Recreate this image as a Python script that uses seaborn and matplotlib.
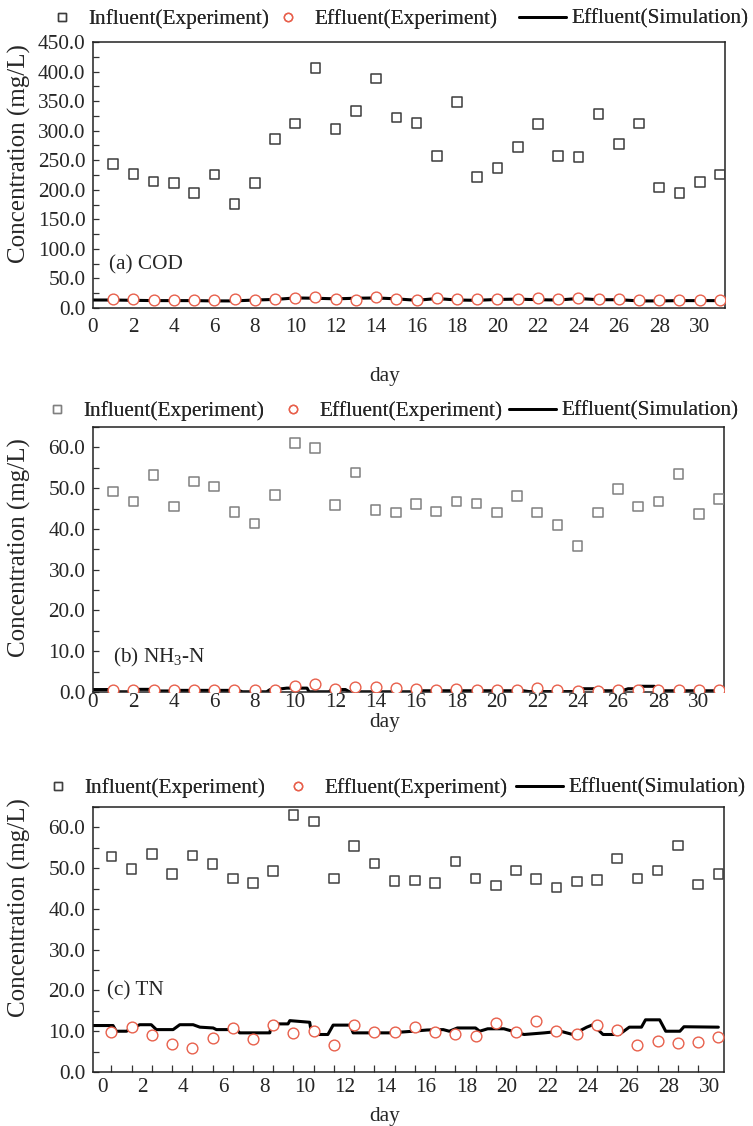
import matplotlib
matplotlib.use("Agg")
import matplotlib.pyplot as plt
import seaborn as sns
import pandas as pd
from matplotlib.lines import Line2D
from matplotlib.ticker import FormatStrFormatter, FixedLocator

# ---------------- data ----------------
days = list(range(1, 32))

cod_in = [244, 227, 214, 211, 195, 226, 176, 211, 286, 312, 406, 303, 333, 388, 322,
          313, 257, 349, 222, 237, 272, 311, 257, 255, 328, 277, 312, 204, 195, 213, 226]
cod_out = [16, 15, 13, 14, 14, 13, 15, 14, 15, 17, 18, 16, 14, 19, 16,
           14, 17, 16, 15, 16, 16, 17, 15, 17, 15, 15, 13, 14, 14, 14, 14]
cod_sim_t = list(range(0, 32))
cod_sim = [13.5, 13.5, 13, 12.5, 12.5, 12.5, 12, 12, 13.5, 14.5, 17, 16.5, 15.5, 16.5, 17, 15.5,
           13, 16, 13.5, 13, 14.5, 15, 14, 13.5, 16, 14, 14, 12, 12, 12.5, 12.5, 12.5]

nh_in = [49.2, 46.7, 53.3, 45.5, 51.6, 50.4, 44.2, 41.3, 48.3, 61.0, 59.9, 45.8, 53.8, 44.6, 44.0,
         46.1, 44.3, 46.7, 46.2, 44.0, 48.0, 44.0, 41.0, 35.8, 44.0, 49.8, 45.5, 46.7, 53.4, 43.6, 47.4]
nh_out = [0.5, 0.6, 0.6, 0.5, 0.6, 0.5, 0.4, 0.5, 0.5, 1.4, 1.9, 0.8, 1.2, 1.2, 1.1,
          0.8, 0.6, 0.7, 0.5, 0.5, 0.5, 1.1, 0.5, 0.3, 0.3, 0.4, 0.4, 0.4, 0.5, 0.5, 0.5]
nh_sim_t = [0, 1.0, 1.17, 1.8, 2.05, 2.94, 3.1, 3.77, 4.0, 7.2, 7.4, 8.6, 8.77, 9.0, 9.6, 10.6,
            10.7, 11.7, 11.8, 12.5, 12.7, 16.07, 16.3, 21.3, 21.6, 24.0, 24.1, 25.0, 25.2, 26.2,
            26.5, 27.0, 27.1, 27.8, 27.9, 31.0]
nh_sim = [0.6, 0.6, 0.05, 0.05, 0.65, 0.65, 0.25, 0.25, 0.4, 0.4, 0.05, 0.05, 0.6, 0.6, 0.95, 0.95,
          0.05, 0.05, 0.6, 0.6, 0.05, 0.05, 0.3, 0.3, 0.1, 0.1, 0.8, 0.8, 0.3, 0.3,
          0.8, 0.8, 1.4, 1.4, 0.3, 0.3]

tn_in = [52.9, 49.8, 53.5, 48.5, 53.1, 51.0, 47.5, 46.3, 49.3, 63.1, 61.4, 47.5, 55.5, 51.1, 46.8,
         47.0, 46.3, 51.6, 47.5, 45.7, 49.4, 47.3, 45.3, 46.7, 47.1, 52.4, 47.5, 49.4, 55.6, 46.0, 48.5]
tn_out = [9.8, 11.1, 9.1, 6.9, 6.0, 8.3, 10.7, 8.0, 11.5, 9.6, 10.1, 6.6, 11.5, 9.7, 9.9,
          11.1, 9.8, 9.4, 8.9, 12.0, 9.7, 12.4, 10.0, 9.4, 11.5, 10.3, 6.7, 7.7, 7.2, 7.4, 8.7]
tn_sim_t = [0, 1.08, 1.24, 1.74, 2.4, 2.97, 3.22, 4.05, 4.38, 5.04, 5.37, 6.03, 6.19, 7.18, 7.34,
            8.83, 8.91, 9.73, 9.82, 10.8, 10.9, 11.7, 11.96, 12.8, 12.95, 14.8, 15.9, 16.6, 17.4,
            17.7, 18.1, 19.0, 19.2, 19.6, 20.4, 21.4, 22.4, 23.2, 23.8, 24.5, 24.8, 25.3, 26.1,
            26.6, 27.2, 27.4, 28.1, 28.4, 29.1, 29.3, 31.0]
tn_sim = [11.4, 11.4, 10.0, 10.0, 11.6, 11.6, 10.4, 10.4, 11.6, 11.6, 11.0, 10.8, 10.4, 10.4, 9.6,
          9.6, 11.8, 11.8, 12.6, 12.2, 9.2, 9.2, 11.5, 11.5, 9.6, 9.6, 10.0, 10.3, 10.4,
          10.0, 10.8, 10.8, 10.0, 10.6, 10.6, 9.2, 9.6, 10.0, 9.2, 11.0, 11.6, 9.2, 9.2,
          11.0, 11.0, 12.8, 12.8, 10.0, 10.0, 11.1, 11.0]

# ---------------- style ----------------
sns.set_theme(style="ticks")
plt.rcParams["font.family"] = ["Liberation Serif", "DejaVu Serif"]
plt.rcParams["mathtext.default"] = "regular"
FS = 15.3
W, H = 753, 1126
RED = "#e8604c"

fig = plt.figure(figsize=(W / 100, H / 100), dpi=100)


def add_ax(l, t, r, b):
    return fig.add_axes([l / W, 1 - b / H, (r - l) / W, (b - t) / H])


def panel(box, x_in, y_in, y_out, t_sim, y_sim, sq_color, ylim, ymajor, yminor,
          xlim, xlabel_pos, xmarks, tag, tag_xy, ylab_y, day_y, legend_y,
          leg_x, xlabpad):
    ax = add_ax(*box)
    df_in = pd.DataFrame({"day": x_in, "v": y_in})
    df_out = pd.DataFrame({"day": x_in, "v": y_out})
    df_sim = pd.DataFrame({"t": t_sim, "v": y_sim})
    sns.lineplot(data=df_sim, x="t", y="v", ax=ax, color="black", lw=2.2, zorder=2,
                 estimator=None, sort=False)
    sns.scatterplot(data=df_in, x="day", y="v", ax=ax, marker="s", s=48,
                    facecolor="none", edgecolor=sq_color, linewidth=1.1, zorder=3)
    sns.scatterplot(data=df_out, x="day", y="v", ax=ax, marker="o", s=60,
                    facecolor="white", edgecolor=RED, linewidth=1.0, zorder=4)
    ax.set_xlim(*xlim)
    ax.set_ylim(*ylim)
    ax.yaxis.set_major_locator(FixedLocator(ymajor))
    ax.yaxis.set_minor_locator(FixedLocator(yminor))
    ax.yaxis.set_major_formatter(FormatStrFormatter("%.1f"))
    ax.set_xticks([p for p, _ in xlabel_pos])
    ax.set_xticklabels([lab for _, lab in xlabel_pos])
    ax.xaxis.set_minor_locator(FixedLocator(xmarks))
    ax.tick_params(axis="x", which="major", length=0, pad=xlabpad, labelsize=FS)
    ax.tick_params(axis="x", which="minor", direction="in", length=5, width=0.9,
                   color="#333333")
    ax.tick_params(axis="y", which="both", direction="in", length=4, width=0.9,
                   pad=5.5, labelsize=FS, color="#333333")
    for sp in ax.spines.values():
        sp.set_linewidth(1.1)
        sp.set_color("#222222")
    bl, bt, br, bb = box
    ax.set_xlabel("day", fontsize=FS)
    ax.xaxis.label.set_va("center")
    ax.xaxis.set_label_coords(((W / 2) - bl + 8) / (br - bl), (bb - day_y) / (bb - bt))
    ax.set_ylabel("Concentration (mg/L)", fontsize=18)
    ax.yaxis.label.set_va("center")
    ax.yaxis.set_label_coords((19 - bl) / (br - bl), (bb - ylab_y) / (bb - bt))
    ax.text((tag_xy[0] - bl) / (br - bl), (bb - tag_xy[1]) / (bb - bt), tag,
            transform=ax.transAxes, fontsize=FS, va="center", ha="left")
    # legend: three entries placed in figure coordinates
    sq = Line2D([], [], ls="none", marker="s", ms=6, mfc="none", mec=sq_color, mew=1.0)
    ci = Line2D([], [], ls="none", marker="o", ms=6, mfc="none", mec=RED, mew=1.0)
    ln = Line2D([], [], color="black", lw=2.0)
    entries = [(sq, "Influent(Experiment)", 0.9, 0.8),
               (ci, "Effluent(Experiment)", 0.9, 0.8),
               (ln, "Effluent(Simulation)", 2.2, 0.28)]
    for (h, lab, hl, pad), x0 in zip(entries, leg_x):
        lg = fig.legend([h], [lab], loc="center left", frameon=False, fontsize=FS,
                        handlelength=hl, handletextpad=pad, borderpad=0, borderaxespad=0,
                        bbox_to_anchor=(x0 / W, 1 - legend_y / H))
        fig.add_artist(lg)
    return ax


lab_a = [(k, str(k)) for k in range(0, 31, 2)]
panel((93, 42, 725, 308), days, cod_in, cod_out, cod_sim_t, cod_sim, "#3c3c3c",
      (0, 450), [i * 50 for i in range(10)], [i * 25 for i in range(19)],
      (0, 31.25), lab_a, [4, 8, 12, 16, 20, 24, 28], "(a) COD", (109, 265),
      154, 377, 19, (52, 278, 519), 7)

panel((93, 427, 724, 692), days, nh_in, nh_out, nh_sim_t, nh_sim, "#808080",
      (0, 65), [i * 10 for i in range(7)], [i * 5 for i in range(14)],
      (0, 31.25), lab_a, [8, 16, 24], "(b) NH$_3$-N", (113, 657),
      548, 722, 411, (47, 283, 509), 1.0)

lab_c = [(k + 0.55, str(k)) for k in range(0, 31, 2)]
panel((93, 807, 724, 1072), days, tn_in, tn_out, tn_sim_t, tn_sim, "#404040",
      (0, 65), [i * 10 for i in range(7)], [i * 5 for i in range(14)],
      (0.09, 31.28), lab_c, list(range(1, 31)), "(c) TN", (107, 991),
      908, 1117, 788, (48, 288, 516), 4)

fig.savefig("out.png", dpi=100)
